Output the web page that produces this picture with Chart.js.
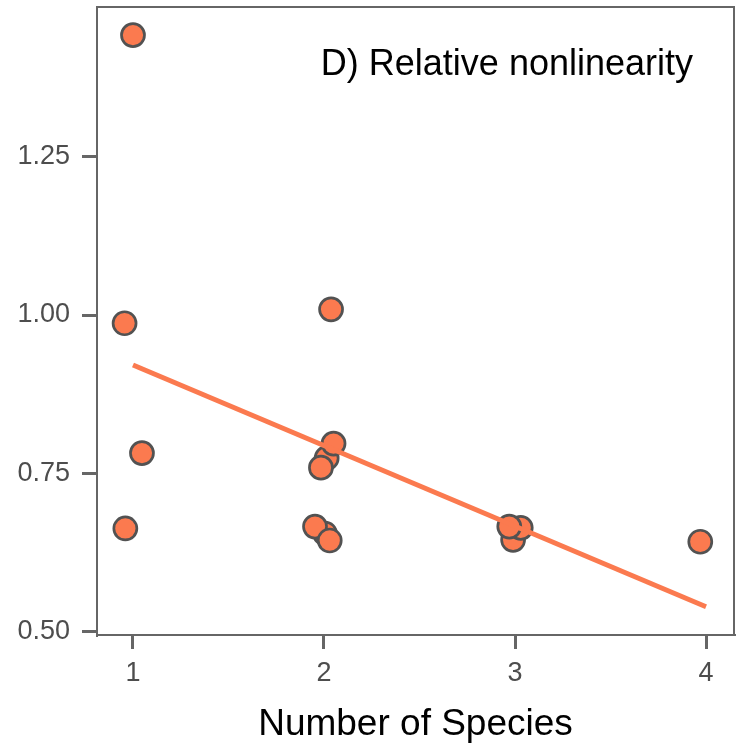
<!DOCTYPE html>
<html><head><meta charset="utf-8">
<script src="https://cdn.jsdelivr.net/npm/chart.js@4"></script>
<style>html,body{margin:0;padding:0;background:#fff;overflow:hidden}canvas{display:block}</style>
</head><body>
<canvas id="c" width="743" height="749"></canvas>
<script>
// Data
const speciesCount     = [1.000, 0.956, 1.047, 0.960, 2.037, 2.014, 2.050, 1.984, 2.005, 1.953, 2.030, 2.990, 3.030, 2.970, 3.970];
const relNonlinearity  = [1.442, 0.987, 0.782, 0.663, 1.009, 0.774, 0.797, 0.759, 0.655, 0.666, 0.644, 0.645, 0.664, 0.666, 0.642];
const fitX = [1, 4];
const fitY = [0.921, 0.5395];
const xTickValues = [1, 2, 3, 4];
const xTickLabels = ['1', '2', '3', '4'];
const yTickValues = [0.50, 0.75, 1.00, 1.25];
const yTickLabels = ['0.50', '0.75', '1.00', '1.25'];
const panelLabel = 'D) Relative nonlinearity';
const xAxisTitle = 'Number of Species';

const FONT = '"Liberation Sans", Arial, Helvetica, sans-serif';
const ORANGE = '#FB7A4F';
const AXIS = '#666666';

const framePlugin = {
  id: 'frame',
  afterDraw(chart) {
    const {ctx, chartArea: a} = chart;
    ctx.save();
    ctx.strokeStyle = AXIS;
    ctx.lineWidth = 2;
    ctx.strokeRect(a.left, a.top, a.right - a.left, a.bottom - a.top);
    ctx.font = '36px ' + FONT;
    ctx.fillStyle = '#000';
    ctx.textAlign = 'right';
    ctx.textBaseline = 'alphabetic';
    ctx.fillText(panelLabel, a.right - 41, a.top + 68);
    ctx.restore();
  }
};

new Chart(document.getElementById('c'), {
  type: 'scatter',
  data: {
    datasets: [
      {
        type: 'line',
        data: fitX.map((x, i) => ({x: x, y: fitY[i]})),
        borderColor: ORANGE,
        borderWidth: 5,
        pointRadius: 0,
        fill: false,
        order: 0
      },
      {
        type: 'scatter',
        data: speciesCount.map((x, i) => ({x: x, y: relNonlinearity[i]})),
        backgroundColor: ORANGE,
        borderColor: '#525252',
        borderWidth: 2.7,
        pointRadius: 11.5,
        pointHoverRadius: 11.5,
        order: 1
      }
    ]
  },
  options: {
    responsive: false,
    animation: false,
    devicePixelRatio: 1,
    layout: {autoPadding: false, padding: {left: 0, top: 7, right: 9, bottom: 0}},
    plugins: {legend: {display: false}, tooltip: {enabled: false}},
    scales: {
      x: {
        type: 'linear',
        min: 0.8116,
        max: 4.1465,
        afterBuildTicks: s => { s.ticks = xTickValues.map(v => ({value: v})); },
        afterFit: s => { s.height = 114; s.paddingLeft = 0; s.paddingRight = 0; s.paddingTop = 0; s.paddingBottom = 0; },
        grid: {drawOnChartArea: false, tickLength: 14, lineWidth: 3, color: AXIS},
        border: {color: AXIS, width: 2},
        ticks: {
          padding: 8, color: '#4D4D4D', maxRotation: 0, autoSkip: false,
          font: {family: FONT, size: 27},
          callback: v => xTickLabels[xTickValues.indexOf(v)]
        },
        title: {
          display: true, text: xAxisTitle, color: '#000',
          font: {family: FONT, size: 37},
          padding: {top: 0, bottom: 2.5}
        }
      },
      y: {
        type: 'linear',
        min: 0.4948,
        max: 1.4863,
        afterBuildTicks: s => { s.ticks = yTickValues.map(v => ({value: v})); },
        afterFit: s => { s.width = 97; s.paddingLeft = 0; s.paddingRight = 0; s.paddingTop = 0; s.paddingBottom = 0; },
        grid: {drawOnChartArea: false, tickLength: 15, lineWidth: 3, color: AXIS},
        border: {color: AXIS, width: 2},
        ticks: {
          padding: 12, color: '#4D4D4D', autoSkip: false,
          font: {family: FONT, size: 27},
          callback: v => yTickLabels[yTickValues.indexOf(v)]
        }
      }
    }
  },
  plugins: [framePlugin]
});
</script>
</body></html>
